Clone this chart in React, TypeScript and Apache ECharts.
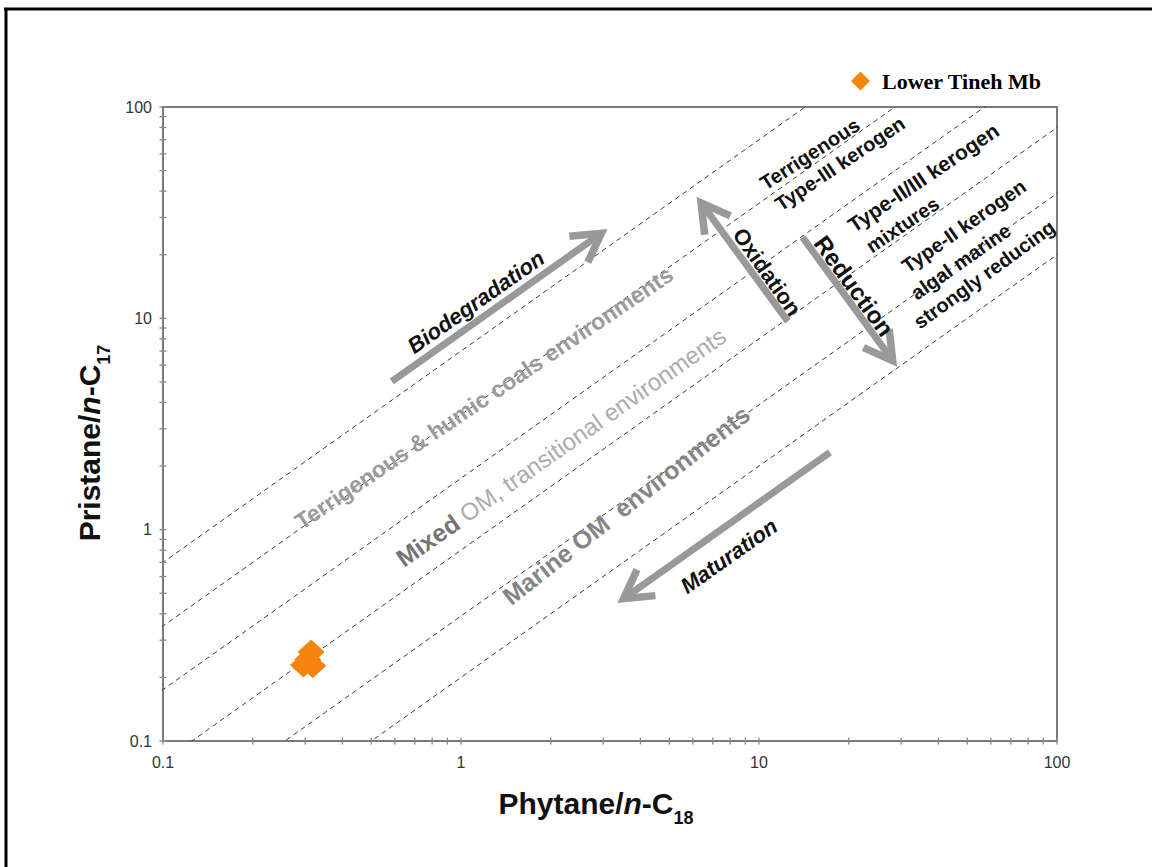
import React, { useEffect, useRef } from 'react';
import * as echarts from 'echarts';

const legendName = 'Lower Tineh Mb';
const phytaneNC18 = [0.314, 0.296, 0.318, 0.306];
const pristaneNC17 = [0.264, 0.229, 0.227, 0.243];
// Pristane/n-C17 = ratio * Phytane/n-C18 (dashed boundaries)
const boundaryRatios = [7.0, 3.5, 1.75, 0.8, 0.39, 0.2];
const boundaryXRange = [0.05, 200];
const tickLabels = ['0.1', '1', '10', '100'];
const tickDecades = [0.1, 1, 10];
const tickMantissas = [1, 2, 3, 4, 5, 6, 7, 8, 9];
const axisMax = 100;
const arrowLabels = ['Biodegradation', 'Oxidation', 'Reduction', 'Maturation'];
const arrowStart = [[0.586, 5.03], [12.5, 9.68], [14.0, 24.2], [17.3, 2.32]];
const arrowEnd = [[3.09, 26.4], [6.19, 37.4], [29.0, 5.93], [3.36, 0.451]];

const SANS = 'Liberation Sans, Arial, sans-serif';
const deg = (d: number) => (d * Math.PI) / 180;

export default function App() {
  const ref = useRef<HTMLDivElement>(null);
  useEffect(() => {
    if (!ref.current) return;
    const chart = echarts.init(ref.current, undefined, { renderer: 'svg' });
    const tickValues = tickDecades
      .flatMap((d) => tickMantissas.map((m) => +(d * m).toPrecision(3)))
      .concat([axisMax]);
    const fmt = (v: number) => {
      const idx = Math.round(Math.log10(v)) + 1;
      return tickLabels[idx] ?? String(v);
    };
    const boundarySeries = boundaryRatios.map((k) => ({
      type: 'line',
      silent: true,
      symbol: 'none',
      clip: true,
      z: 1,
      lineStyle: { color: '#3a3a3a', width: 1, type: [5, 4] },
      data: boundaryXRange.map((x) => [x, x * k]),
    }));
    const blackLabel = { fill: '#111', fontFamily: SANS, fontWeight: 'bold' };
    const txt = (text: string, x: number, y: number, rotDeg: number, style: any, align = 'center', vAlign = 'middle') => ({
      type: 'text',
      x,
      y,
      rotation: deg(rotDeg),
      z: 50,
      style: { text, align, verticalAlign: vAlign, ...style },
    });
    const titleRich = {
      a: { fontSize: 30, fontWeight: 'bold', fontFamily: SANS, fill: '#111', lineHeight: 32 },
      i: { fontSize: 30, fontWeight: 'bold', fontStyle: 'italic', fontFamily: SANS, fill: '#111', lineHeight: 32 },
      s: { fontSize: 18, fontWeight: 'bold', fontFamily: SANS, fill: '#111', lineHeight: 18, verticalAlign: 'top', padding: [22, 0, 0, 0] },
    };
    const kerogen = { ...blackLabel, fontSize: 20 };
    const option: any = {
      animation: false,
      textStyle: { fontFamily: SANS },
      grid: {
        left: 163,
        right: 95,
        top: 107,
        bottom: 126,
        show: true,
        borderColor: '#7a7a7a',
        borderWidth: 2,
        backgroundColor: 'transparent',
      },
      legend: {
        data: [{ name: legendName, icon: 'diamond' }],
        left: 846,
        top: 65,
        itemWidth: 19,
        itemHeight: 19,
        textStyle: {
          fontFamily: 'Liberation Serif, Times New Roman, serif',
          fontWeight: 'bold',
          fontSize: 22,
          color: '#000',
          padding: [0, 0, 0, 7],
        },
      },
      xAxis: {
        type: 'log',
        logBase: 10,
        min: 0.1,
        max: axisMax,
        axisLine: { show: false },
        axisTick: { show: false },
        splitLine: { show: false },
        axisLabel: { formatter: fmt, color: '#333', fontSize: 16, margin: 13, fontFamily: SANS },
      },
      yAxis: {
        type: 'log',
        logBase: 10,
        min: 0.1,
        max: axisMax,
        axisLine: { show: false },
        axisTick: { show: false },
        splitLine: { show: false },
        axisLabel: { formatter: fmt, color: '#333', fontSize: 16, margin: 11, fontFamily: SANS },
      },
      series: [
        ...boundarySeries,
        {
          type: 'scatter',
          silent: true,
          clip: false,
          symbol: 'rect',
          symbolSize: [1.3, 7],
          itemStyle: { color: '#8a8a8a', opacity: 1 },
          data: tickValues.map((v) => [v, 0.1]),
          z: 3,
        },
        {
          type: 'scatter',
          silent: true,
          clip: false,
          symbol: 'rect',
          symbolSize: [7, 1.3],
          itemStyle: { color: '#8a8a8a', opacity: 1 },
          data: tickValues.map((v) => [0.1, v]),
          z: 3,
        },
        {
          type: 'custom',
          silent: true,
          clip: false,
          z: 5,
          encode: { x: [0, 2], y: [1, 3] },
          data: arrowStart.map((s, i) => ({ name: arrowLabels[i], value: [s[0], s[1], arrowEnd[i][0], arrowEnd[i][1]] })),
          renderItem: (params: any, api: any) => {
            const a = api.coord([api.value(0), api.value(1)]);
            const b = api.coord([api.value(2), api.value(3)]);
            const dx = b[0] - a[0];
            const dy = b[1] - a[1];
            const L = Math.hypot(dx, dy);
            const ux = dx / L;
            const uy = dy / L;
            const hl = 32;
            const ang = 0.52;
            const c = Math.cos(ang);
            const s = Math.sin(ang);
            const tip = [b[0] - ux * 7, b[1] - uy * 7];
            const w1 = [tip[0] - hl * (ux * c - uy * s), tip[1] - hl * (uy * c + ux * s)];
            const w2 = [tip[0] - hl * (ux * c + uy * s), tip[1] - hl * (uy * c - ux * s)];
            return {
              type: 'group',
              children: [
                {
                  type: 'line',
                  shape: { x1: a[0], y1: a[1], x2: tip[0] - ux * 4, y2: tip[1] - uy * 4 },
                  style: { stroke: '#999', lineWidth: 7, fill: null },
                },
                {
                  type: 'polyline',
                  shape: { points: [w1, tip, w2] },
                  style: { stroke: '#999', lineWidth: 7.5, fill: null, lineJoin: 'miter' },
                },
              ],
            };
          },
        },
        {
          name: legendName,
          type: 'scatter',
          symbol: 'diamond',
          symbolSize: [27, 25],
          z: 10,
          itemStyle: { color: '#F5850F', opacity: 1 },
          data: phytaneNC18.map((x, i) => [x, pristaneNC17[i]]),
        },
      ],
      graphic: [
        { type: 'line', shape: { x1: 4, y1: 9, x2: 1152, y2: 9 }, style: { stroke: '#000', lineWidth: 3 } },
        { type: 'line', shape: { x1: 6, y1: 8, x2: 6, y2: 867 }, style: { stroke: '#000', lineWidth: 3 } },
        {
          type: 'text',
          x: 596,
          y: 803,
          style: {
            text: '{a|Phytane/}{i|n}{a|-C}{s|18}',
            align: 'center',
            verticalAlign: 'middle',
            rich: titleRich,
          },
        },
        {
          type: 'text',
          x: 89,
          y: 443,
          rotation: Math.PI / 2,
          style: {
            text: '{a|Pristane/}{i|n}{a|-C}{s|17}',
            align: 'center',
            verticalAlign: 'middle',
            rich: titleRich,
          },
        },
        txt('Biodegradation', 476, 302, 35, { ...blackLabel, fontStyle: 'italic', fontSize: 22 }),
        txt('Maturation', 729, 556, 35, { ...blackLabel, fontStyle: 'italic', fontSize: 22 }),
        txt('Oxidation', 767, 272, -55, { ...blackLabel, fontSize: 22 }),
        txt('Reduction', 854, 286, -54, { ...blackLabel, fontSize: 24 }),
        txt('Terrigenous & humic coals environments', 484, 398, 34, {
          fill: '#9a9a9a', fontFamily: SANS, fontWeight: 'bold', fontSize: 23,
        }),
        txt('{b|Mixed}{r| OM, transitional environments}', 561, 447, 35, {
          rich: {
            b: { fill: '#747474', fontFamily: SANS, fontWeight: 'bold', fontSize: 25 },
            r: { fill: '#ababab', fontFamily: SANS, fontSize: 24 },
          },
        }),
        txt('Marine OM  environments', 626, 505, 38, {
          fill: '#858585', fontFamily: SANS, fontWeight: 'bold', fontSize: 25,
        }),
        txt('Terrigenous', 762, 185, 33, kerogen, 'left'),
        txt('Type-III kerogen', 777, 206, 34, kerogen, 'left'),
        txt('Type-II/III kerogen', 850, 227, 34, { ...kerogen, fontSize: 21 }, 'left'),
        txt('mixtures', 868, 248, 34, kerogen, 'left'),
        txt('Type-II kerogen', 904, 268, 35, kerogen, 'left'),
        txt('algal marine', 913, 295, 35, kerogen, 'left'),
        txt('strongly reducing', 916, 324, 36, kerogen, 'left'),
      ],
    };
    chart.setOption(option);
    return () => chart.dispose();
  }, []);
  return (
    <div
      ref={ref}
      style={{ position: 'absolute', left: 0, top: 0, width: 1152, height: 867, background: '#fff' }}
    />
  );
}
